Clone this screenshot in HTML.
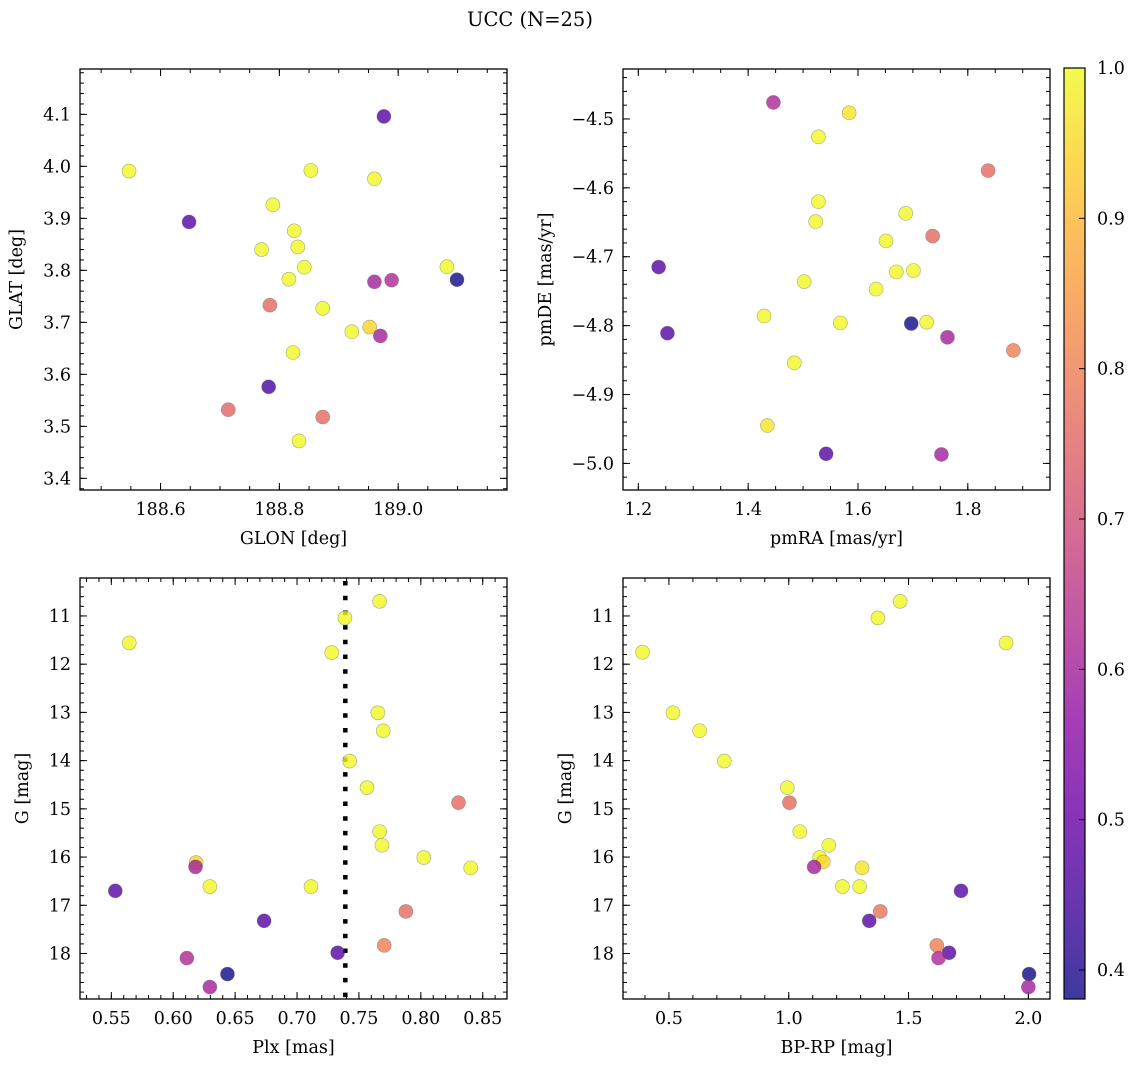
<!DOCTYPE html>
<html><head><meta charset="utf-8"><style>
html,body{margin:0;padding:0;background:#fff;}
svg{display:block;font-family:"DejaVu Serif","Liberation Serif",serif;}
</style></head><body>
<svg id="fig" width="1136" height="1067" viewBox="0 0 1136 1067" xmlns="http://www.w3.org/2000/svg">
<defs><linearGradient id="cbgrad" x1="0" y1="1" x2="0" y2="0"></linearGradient></defs>
<text x="530" y="26" font-size="19.5" text-anchor="middle">UCC (N=25)</text>
</svg>
<script>
// ---- data ----
const glon=[188.547,188.648,188.976,188.853,188.960,188.789,188.825,188.831,188.770,188.842,188.816,188.960,188.989,189.082,189.099,188.784,188.873,188.922,188.952,188.970,188.823,188.782,188.714,188.873,188.833];
const glat=[3.991,3.893,4.096,3.992,3.976,3.926,3.876,3.845,3.840,3.806,3.783,3.778,3.781,3.807,3.782,3.733,3.727,3.682,3.691,3.674,3.642,3.576,3.532,3.518,3.472];
const probTL=[1,0.47,0.47,1,1,1,1,1,1,1,1,0.6,0.62,1,0.38,0.76,1,1,0.95,0.6,1,0.45,0.75,0.76,1];
const pmra=[1.446,1.584,1.528,1.837,1.528,1.687,1.523,1.736,1.651,1.237,1.670,1.701,1.502,1.633,1.429,1.568,1.697,1.725,1.253,1.763,1.883,1.484,1.435,1.542,1.752];
const pmde=[-4.476,-4.491,-4.526,-4.575,-4.620,-4.637,-4.649,-4.670,-4.677,-4.715,-4.722,-4.720,-4.736,-4.747,-4.786,-4.796,-4.797,-4.795,-4.811,-4.817,-4.836,-4.854,-4.945,-4.986,-4.987];
const probTR=[0.62,0.97,1,0.76,1,1,1,0.76,1,0.47,1,1,1,1,1,1,0.38,1,0.47,0.6,0.8,1,0.97,0.47,0.6];
const plx=[0.7667,0.7387,0.5645,0.7280,0.7653,0.7696,0.7425,0.7565,0.8304,0.7667,0.7686,0.8024,0.8403,0.6185,0.6180,0.6296,0.7113,0.5532,0.7879,0.6734,0.7704,0.7328,0.6110,0.6438,0.6296];
const gmagBL=[10.696,11.041,11.559,11.759,13.008,13.381,14.009,14.561,14.872,15.472,15.755,16.010,16.224,16.114,16.204,16.611,16.611,16.700,17.128,17.322,17.832,17.984,18.095,18.426,18.695];
const probBL=[1,1,1,1,1,1,1,1,0.76,1,1,1,1,0.95,0.6,1,1,0.47,0.76,0.47,0.8,0.47,0.62,0.38,0.6];
const plxCut=[0.739];
const bprp=[0.390,1.372,1.465,1.907,0.517,0.628,0.731,0.994,1.003,1.046,1.167,1.129,1.144,1.106,1.306,1.224,1.296,1.719,1.382,1.336,1.618,1.669,1.625,2.003,2.000];
const gmagBR=[11.752,11.041,10.696,11.559,13.008,13.381,14.009,14.561,14.872,15.472,15.755,16.010,16.100,16.204,16.224,16.611,16.611,16.700,17.128,17.322,17.832,17.984,18.095,18.426,18.695];
const probBR=[1,1,1,1,1,1,1,1,0.76,1,1,1,0.95,0.6,0.97,1,1,0.47,0.78,0.47,0.8,0.47,0.62,0.38,0.6];
const ticksTLx=[188.6,188.8,189.0], ticksTLy=[3.4,3.5,3.6,3.7,3.8,3.9,4.0,4.1];
const ticksTRx=[1.2,1.4,1.6,1.8], ticksTRy=[-5.0,-4.9,-4.8,-4.7,-4.6,-4.5];
const ticksBLx=[0.55,0.60,0.65,0.70,0.75,0.80,0.85], ticksGy=[11,12,13,14,15,16,17,18];
const ticksBRx=[0.5,1.0,1.5,2.0];
const ticksCB=[0.4,0.5,0.6,0.7,0.8,0.9,1.0];

const NS="http://www.w3.org/2000/svg";
const svg=document.getElementById('fig');
const FS=17.5;
function mk(tag,attrs,parent){const e=document.createElementNS(NS,tag);for(const k in attrs)e.setAttribute(k,attrs[k]);(parent||svg).appendChild(e);return e;}
const plasma=[[13,8,135],[65,4,157],[106,0,168],[143,13,164],[177,42,144],[204,71,120],[225,100,98],[242,132,75],[252,166,54],[252,206,37],[240,249,33]];
const VMIN=0.3807,VMAX=1.0;
function cmap(v){let t=(v-VMIN)/(VMAX-VMIN);t=Math.max(0,Math.min(1,t));const f=t*10,i=Math.min(9,Math.floor(f)),r=f-i;
 const c=plasma[i].map((a,k)=>Math.round(a+(plasma[i+1][k]-a)*r));return `rgb(${c[0]},${c[1]},${c[2]})`;}
function fmt(v,d){const s=v.toFixed(d);return s.replace('-','\u2212');}

function panel(o){
 const g=mk('g',{});
 
 
 const X=v=>o.L+(v-o.xd[0])/(o.xd[1]-o.xd[0])*(o.R-o.L);
 const Y=o.inv? v=>o.T+(v-o.yd[0])/(o.yd[1]-o.yd[0])*(o.B-o.T) : v=>o.B-(v-o.yd[0])/(o.yd[1]-o.yd[0])*(o.B-o.T);
 const tk=(x1,y1,x2,y2)=>mk('line',{x1,y1,x2,y2,stroke:'#000','stroke-width':1},g);
 for(let v=Math.ceil(o.xd[0]/o.xm-1e-6)*o.xm; v<=o.xd[1]; v+=o.xm){const x=X(v);tk(x,o.B,x,o.B-4);tk(x,o.T,x,o.T+4);}
 const ylo=Math.min(...o.yd),yhi=Math.max(...o.yd);
 for(let v=Math.ceil(ylo/o.ym-1e-6)*o.ym; v<=yhi; v+=o.ym){const y=Y(v);tk(o.L,y,o.L+4,y);tk(o.R,y,o.R-4,y);}
 o.xt.forEach(v=>{const x=X(v);tk(x,o.B,x,o.B-7);tk(x,o.T,x,o.T+7);
  const t=mk('text',{x:x,y:o.B+25,'font-size':FS,'text-anchor':'middle'},g);t.textContent=fmt(v,o.xdp);
  
  });
 o.yt.forEach(v=>{const y=Y(v);tk(o.L,y,o.L+7,y);tk(o.R,y,o.R-7,y);
  const t=mk('text',{x:o.L-9,y:y+6,'font-size':FS,'text-anchor':'end'},g);t.textContent=fmt(v,o.ydp);
  
  });
 if(o.vline!==undefined){const x=X(o.vline);
  const l=mk('line',{x1:x,y1:o.T+1,x2:x,y2:o.B,stroke:'#000','stroke-width':4.5,'stroke-dasharray':'4.5 10.2','stroke-dashoffset':-2},g);
  
  }
 o.xs.forEach((xv,i)=>{const c=mk('circle',{cx:X(xv),cy:Y(o.ys[i]),r:7,fill:cmap(o.ps[i]),'fill-opacity':0.8,stroke:'#666','stroke-opacity':0.55,'stroke-width':0.6},g);
  
  });
 const fr=mk('rect',{x:o.L,y:o.T,width:o.R-o.L,height:o.B-o.T,fill:'none',stroke:'#000','stroke-width':1.3},g);
 
 
 const xl=mk('text',{x:(o.L+o.R)/2,y:o.B+54,'font-size':FS,'text-anchor':'middle'},g);xl.textContent=o.xl;
 
 
 const cy=(o.T+o.B)/2;
 const yl=mk('text',{x:o.ylx,y:cy,'font-size':FS,'text-anchor':'middle',transform:`rotate(-90 ${o.ylx} ${cy})`},g);yl.textContent=o.yl;
 
 
}
panel({name:'glon-glat-panel',L:80,R:507,T:69,B:490,xd:[188.4644,189.1832],yd:[3.3776,4.1872],xm:0.05,ym:0.02,xt:ticksTLx,yt:ticksTLy,xdp:1,ydp:1,xs:glon,ys:glat,ps:probTL,xl:'GLON [deg]',yl:'GLAT [deg]',ylx:22});
panel({name:'proper-motion-panel',L:623,R:1050,T:69,B:490,xd:[1.1721,1.9497],yd:[-5.0386,-4.4275],xm:0.05,ym:0.02,xt:ticksTRx,yt:ticksTRy,xdp:1,ydp:1,xs:pmra,ys:pmde,ps:probTR,xl:'pmRA [mas/yr]',yl:'pmDE [mas/yr]',ylx:551});
panel({name:'plx-g-panel',L:80,R:507,T:578,B:999,xd:[0.5247,0.8696],yd:[10.213,18.943],inv:true,xm:0.01,ym:0.2,xt:ticksBLx,yt:ticksGy,xdp:2,ydp:0,xs:plx,ys:gmagBL,ps:probBL,xl:'Plx [mas]',yl:'G [mag]',ylx:28,vline:plxCut[0]});
panel({name:'cmd-panel',L:623,R:1050,T:578,B:999,xd:[0.3083,2.0903],yd:[10.213,18.943],inv:true,xm:0.1,ym:0.2,xt:ticksBRx,yt:ticksGy,xdp:1,ydp:0,xs:bprp,ys:gmagBR,ps:probBR,xl:'BP-RP [mag]',yl:'G [mag]',ylx:571});

// colorbar
const grad=document.getElementById('cbgrad');
for(let i=0;i<=20;i++){const v=VMIN+(VMAX-VMIN)*i/20;mk('stop',{offset:(i/20),'stop-color':cmap(v),'stop-opacity':0.8},grad);}
const cb=mk('g',{});


const CT=68,CB=999,CL=1064,CR=1085;
mk('rect',{x:CL,y:CT,width:CR-CL,height:CB-CT,fill:'url(#cbgrad)',stroke:'#000','stroke-width':1.2},cb);
const CY=v=>CB-(v-VMIN)/(VMAX-VMIN)*(CB-CT);
ticksCB.forEach(v=>{const y=CY(v);mk('line',{x1:CR-6,y1:y,x2:CR,y2:y,stroke:'#000','stroke-width':1},cb);
 const t=mk('text',{x:CR+12,y:y+6,'font-size':FS},cb);t.textContent=v.toFixed(1);
 
 });
</script>
</body></html>
